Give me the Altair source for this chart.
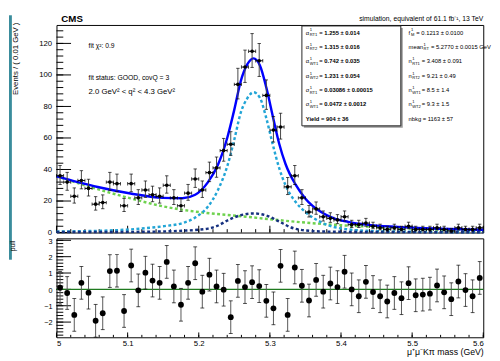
import altair as alt
import numpy as np
import pandas as pd

FONT = "Liberation Sans"

# ---------------- data ----------------
# bin centres of the 0.01 GeV bins between 5.0 and 5.6 GeV
mass = [round(5.005 + 0.01 * i, 3) for i in range(60)]

counts = [36, 32, 23, 33, 28, 18, 19, 32, 31, 17,
          31, 22, 27, 24, 23, 30, 22, 17, 25, 34,
          27, 38, 41, 52, 56, 94, 105, 115, 109, 87,
          65, 67, 29, 36, 22, 13, 15, 10, 9, 8,
          10, 5, 5, 6, 4, 3, 2, 3, 2, 4,
          2, 2, 2, 3, 2, 1, 3, 2, 2, 3]

pulls = [0.1, -0.22, -1.56, 0.4, -0.2, -1.92, -1.46, 1.12, 1.14, -1.32,
         1.46, -0.06, 1.02, 0.54, 0.4, 1.68, 0.18, -0.94, 0.4, 1.6,
         -0.14, 0.9, 0.18, -0.02, -1.7, 0.52, 0.14, 0.44, 0.2, -0.7,
         -1.16, 1.44, -1.56, 1.34, 0.22, -0.68, 0.58, -0.14, 0.36, 0.14,
         1.08, 0.0, -0.42, 0.46, -0.16, -0.42, -0.74, -0.22, -0.54, 0.38,
         -0.36, -0.32, -0.26, 0.24, -0.18, -0.6, 0.48, -0.04, -0.42, 0.7]

# total fit (solid blue) and correctly-tagged signal (light blue dotted)
fit_x = [5.0, 5.03, 5.058, 5.104, 5.15, 5.177, 5.195, 5.213, 5.227, 5.24,
         5.25, 5.259, 5.268, 5.277, 5.286, 5.295, 5.304, 5.313, 5.322, 5.336,
         5.35, 5.372, 5.39, 5.41, 5.436, 5.48, 5.53, 5.6]
total_y = [35.6, 32.0, 28.9, 24.8, 22.0, 21.8, 24.0, 32.0, 43.0, 60.0,
           78.0, 96.0, 106.5, 110.5, 106.0, 92.0, 74.0, 56.5, 43.5, 30.5,
           21.5, 13.0, 9.0, 6.8, 5.0, 3.6, 2.6, 1.8]
rt_y = [0.6, 0.8, 1.1, 2.0, 4.0, 6.0, 9.5, 16.5, 27.0, 42.0,
        59.0, 76.0, 85.0, 89.0, 85.5, 72.5, 56.0, 41.0, 30.0, 19.5,
        13.0, 6.5, 3.5, 2.0, 1.1, 0.6, 0.4, 0.3]
# background (green dotted)
bkg_x = [5.0, 5.058, 5.104, 5.15, 5.195, 5.263, 5.345, 5.39, 5.436, 5.504, 5.6]
bkg_y = [35.7, 27.5, 21.7, 16.6, 13.3, 10.2, 6.5, 4.9, 3.8, 2.4, 1.3]
# wrongly-tagged signal (navy dotted)
wt_x = [5.0, 5.1, 5.15, 5.18, 5.2, 5.213, 5.225, 5.24, 5.259, 5.277,
        5.295, 5.313, 5.33, 5.35, 5.38, 5.45, 5.6]
wt_y = [0.3, 0.4, 0.7, 1.2, 1.8, 2.5, 4.0, 7.6, 11.0, 12.1,
        10.8, 7.0, 3.2, 1.3, 0.6, 0.3, 0.2]

pull_tick_values = [-2, -1, 0, 1, 2, 3]
pull_tick_labels = ["−2", "−1", "0", "1", "2", "3"]

left_sym = ["α", "α", "α", "α", "σ", "σ"]
left_sub = ["RT1", "RT2", "WT1", "WT2", "RT1", "WT1"]
left_val = ["= 1.255 ± 0.014", "= 1.315 ± 0.016", "= 0.742 ± 0.035",
            "= 1.231 ± 0.054", "= 0.03086 ± 0.00015", "= 0.0472 ± 0.0012"]
yield_txt = "Yield = 904 ± 36"
right_sym = ["f", "mean", "n", "n", "n", "n"]
right_sub = ["M", "RT", "RT1", "RT2", "WT1", "WT2"]
right_val = ["= 0.1213 ± 0.0100", "= 5.2770 ± 0.0015 GeV", "= 3.408 ± 0.091",
             "= 9.21 ± 0.49", "= 8.5 ± 1.4", "= 9.3 ± 1.5"]
nbkg_txt = "nbkg = 1163 ± 57"

# ---------------- layout ----------------
W, H_TOP, H_BOT = 440, 214, 102

xs = alt.Scale(domain=[5.0, 5.6], nice=False, zero=False)
ys_top = alt.Scale(domain=[0, 131.7], nice=False, zero=False)
ys_bot = alt.Scale(domain=[-2.93, 3.12], nice=False, zero=False)

common_axis = dict(ticks=False, domain=False, grid=False, labelFont=FONT,
                   labelFontSize=8, labelColor="black", titleFont=FONT,
                   titleFontWeight="normal", titleColor="black", labelOverlap=False)

yax_top = alt.Axis(title="Events / ( 0.01 GeV )", values=[0, 20, 40, 60, 80, 100, 120],
                   labelPadding=5, titleFontSize=8, titleAngle=270, titleAlign="right",
                   titleBaseline="middle", titleX=-42, titleY=-3, **common_axis)
yax_bot = alt.Axis(title="pull", values=pull_tick_values, labels=False,
                   titleFontSize=7, titleAngle=270, titleAlign="right",
                   titleBaseline="middle", titleX=-45, titleY=2, **common_axis)
xax_bot = alt.Axis(title="μ⁺μ⁻Kπ mass (GeV)", values=[5.0, 5.1, 5.2, 5.3, 5.4, 5.5, 5.6],
                   format=".1~f", labelPadding=2, titleFontSize=9, titleAlign="right",
                   titleBaseline="middle", titleX=W, titleY=15, **common_axis)

pts = pd.DataFrame({"m": mass, "n": counts})
pul = pd.DataFrame({"m": mass, "p": pulls})


def ticks_df(start, stop, step):
    return pd.DataFrame({"v": np.round(np.arange(start, stop + 1e-9, step), 3)})


def txt(s, x, y, size=7, weight="normal", align="left", baseline="middle"):
    return alt.Chart().mark_text(text=s, font=FONT, fontSize=size, fontWeight=weight,
                                 align=align, baseline=baseline, color="black").encode(
        x=alt.value(x), y=alt.value(y))


def yticks(df, scale, axis, length):
    return alt.Chart(df).mark_rule(color="black", strokeWidth=1).encode(
        y=alt.Y("v:Q", scale=scale, axis=axis), x=alt.value(0), x2=alt.value(length))


def xticks(df, axis, h, length):
    return alt.Chart(df).mark_rule(color="black", strokeWidth=1).encode(
        x=alt.X("v:Q", scale=xs, axis=axis), y=alt.value(h), y2=alt.value(h - length))


def curve(xv, yv, color, dash=None, width=2.5):
    kw = dict(color=color, strokeWidth=width, interpolate="monotone")
    if dash:
        kw["strokeDash"] = dash
    return alt.Chart(pd.DataFrame({"x": xv, "y": yv})).mark_line(**kw).encode(
        x=alt.X("x:Q", scale=xs, axis=None),
        y=alt.Y("y:Q", scale=ys_top, axis=yax_top))


# ---------------- top panel ----------------
teal = alt.Chart().mark_rule(color="#3a8c9c", strokeWidth=3, strokeCap="butt").encode(
    x=alt.value(-47.5), y=alt.value(-10), y2=alt.value(242))

top_layers = [
    teal,
    yticks(ticks_df(0, 120, 20), ys_top, yax_top, 15),
    yticks(ticks_df(0, 128, 4), ys_top, yax_top, 7),
    xticks(ticks_df(5.0, 5.6, 0.1), None, H_TOP, 7),
    xticks(ticks_df(5.0, 5.6, 0.02), None, H_TOP, 3.5),
    curve(bkg_x, bkg_y, "#6fd24f", [3, 2.5]),
    curve(fit_x, rt_y, "#22a5d6", [3, 2.5]),
    curve(wt_x, wt_y, "#15307f", [3, 2.5]),
    curve(fit_x, total_y, "#0000ff", None, 2.5),
]

base_pts = alt.Chart(pts).transform_calculate(
    lo="datum.n - (sqrt(datum.n + 0.25) - 0.5)",
    hi="datum.n + sqrt(datum.n + 0.25) + 0.5",
    xl="datum.m - 0.005",
    xh="datum.m + 0.005",
)
top_layers += [
    base_pts.mark_rule(color="#444444", strokeWidth=1).encode(
        x=alt.X("m:Q", scale=xs, axis=None),
        y=alt.Y("lo:Q", scale=ys_top, axis=yax_top), y2="hi:Q"),
    base_pts.mark_rule(color="black", strokeWidth=1).encode(
        x=alt.X("xl:Q", scale=xs, axis=None), x2="xh:Q",
        y=alt.Y("n:Q", scale=ys_top, axis=yax_top)),
    base_pts.transform_fold(["lo", "hi"], as_=["k", "val"]).mark_tick(
        orient="horizontal", size=3.5, thickness=1, color="black").encode(
        x=alt.X("m:Q", scale=xs, axis=None),
        y=alt.Y("val:Q", scale=ys_top, axis=yax_top)),
    base_pts.transform_fold(["xl", "xh"], as_=["k", "val"]).mark_tick(
        orient="vertical", size=3.5, thickness=1, color="black").encode(
        x=alt.X("val:Q", scale=xs, axis=None),
        y=alt.Y("n:Q", scale=ys_top, axis=yax_top)),
    base_pts.mark_circle(size=14, color="black", opacity=1).encode(
        x=alt.X("m:Q", scale=xs, axis=None),
        y=alt.Y("n:Q", scale=ys_top, axis=yax_top)),
]

# stats box
top_layers += [
    alt.Chart().mark_rect(fill="#9a9a9a").encode(
        x=alt.value(255), x2=alt.value(357), y=alt.value(3), y2=alt.value(106)),
    alt.Chart().mark_rect(fill="white", stroke="#222222", strokeWidth=1).encode(
        x=alt.value(253), x2=alt.value(355), y=alt.value(1), y2=alt.value(104)),
]
ROW0, DROW = 8, 14.8
for k in range(6):
    yy = ROW0 + DROW * k
    top_layers += [
        txt(left_sym[k], 257, yy, 6),
        txt("1", 261, yy - 2.3, 4.2),
        txt(left_sub[k], 261, yy + 2.5, 4.2),
        txt(left_val[k], 271, yy, 6, "bold"),
    ]
top_layers.append(txt(yield_txt, 257, ROW0 + DROW * 6, 6, "bold"))

RX = 363
r_subx = [RX + 2.5, RX + 15.5, RX + 3.8, RX + 3.8, RX + 3.8, RX + 3.8]
r_valx = [RX + 8, RX + 23, RX + 13.5, RX + 13.5, RX + 13.5, RX + 13.5]
for k in range(6):
    yy = ROW0 + DROW * k
    top_layers += [
        txt(right_sym[k], RX, yy, 6),
        txt("1", r_subx[k], yy - 2.3, 4.2),
        txt(right_sub[k], r_subx[k], yy + 2.5, 4.2),
        txt(right_val[k], r_valx[k], yy, 6),
    ]
top_layers.append(txt(nbkg_txt, RX, ROW0 + DROW * 6, 6))

# annotations
top_layers += [
    txt("CMS", 5, -3, 10, "bold", baseline="alphabetic"),
    txt("simulation, equivalent of 61.1 fb⁻¹, 13 TeV", W, -4, 7, align="right",
        baseline="alphabetic"),
    txt("fit χ²: 0.9", 33, 21.3, 7),
    txt("fit status: GOOD, covQ = 3", 33, 54.7, 7),
    txt("2.0 GeV² < q² < 4.3 GeV²", 33, 69.3, 8),
]

top = alt.layer(*top_layers).properties(width=W, height=H_TOP)

# ---------------- pull panel ----------------
pull_lab = pd.DataFrame({"v": pull_tick_values, "t": pull_tick_labels})
base_pul = alt.Chart(pul).transform_calculate(lo="datum.p - 1", hi="datum.p + 1")
bot_layers = [
    yticks(ticks_df(-2, 3, 1), ys_bot, yax_bot, 15),
    yticks(ticks_df(-2.8, 3.0, 0.2), ys_bot, yax_bot, 7),
    alt.Chart(pull_lab).mark_text(font=FONT, fontSize=7.5, align="right",
                                  baseline="middle", color="black", dy=1.5).encode(
        y=alt.Y("v:Q", scale=ys_bot, axis=yax_bot), x=alt.value(-4), text="t:N"),
    xticks(ticks_df(5.0, 5.6, 0.1), xax_bot, H_BOT, 5),
    xticks(ticks_df(5.0, 5.6, 0.02), xax_bot, H_BOT, 2.5),
    alt.Chart().mark_rule(color="#1f7a1f", strokeWidth=1.5).encode(
        y=alt.datum(0, scale=ys_bot)),
    base_pul.mark_rule(color="#555555", strokeWidth=1).encode(
        x=alt.X("m:Q", scale=xs, axis=xax_bot),
        y=alt.Y("lo:Q", scale=ys_bot, axis=yax_bot), y2="hi:Q"),
    base_pul.transform_fold(["lo", "hi"], as_=["k", "val"]).mark_tick(
        orient="horizontal", size=4, thickness=1, color="black").encode(
        x=alt.X("m:Q", scale=xs, axis=xax_bot),
        y=alt.Y("val:Q", scale=ys_bot, axis=yax_bot)),
    base_pul.mark_circle(size=36, color="black", opacity=1).encode(
        x=alt.X("m:Q", scale=xs, axis=xax_bot),
        y=alt.Y("p:Q", scale=ys_bot, axis=yax_bot)),
]
bottom = alt.layer(*bot_layers).properties(width=W, height=H_BOT)

chart = alt.vconcat(top, bottom, spacing=6).properties(
    padding=0,
    bounds="flush",
    background="white",
).configure_view(stroke="black", strokeWidth=1)

chart.save("out.html", embed_options={"renderer": "svg", "actions": False})
